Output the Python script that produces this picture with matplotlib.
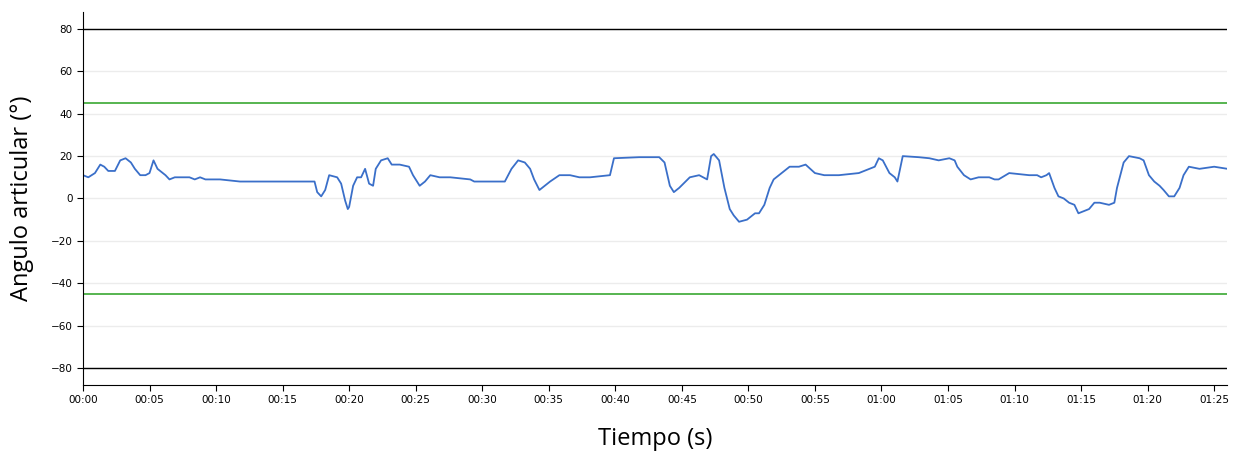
import numpy as np
from matplotlib import pyplot as plt

# datos (tiempo en s, angulo en grados)
tiempo = [0, 0.4, 0.9, 1.3, 1.6, 1.9, 2.4, 2.8, 3.2, 3.6, 3.9, 4.3, 4.7, 5.0, 5.3, 5.6, 6.2, 6.5, 6.9, 7.3,
          8.0, 8.4, 8.8, 9.2, 10.3, 11.8, 13.3, 16.3, 17.4, 17.6, 17.9, 18.2, 18.5, 19.1, 19.4, 19.7, 19.9,
          20.0, 20.3, 20.6, 20.9, 21.2, 21.5, 21.8, 22.0, 22.4, 22.9, 23.2, 23.8, 24.5, 24.8, 25.3, 25.7,
          26.1, 26.8, 27.6, 29.1, 29.4, 30.6, 31.7, 32.2, 32.7, 33.2, 33.6, 33.9, 34.3, 34.7, 35.1, 35.8,
          36.6, 37.3, 38.1, 39.6, 39.9, 41.8, 43.3, 43.7, 44.1, 44.4, 44.8, 45.6, 46.3, 46.9, 47.2, 47.4,
          47.8, 48.2, 48.6, 48.9, 49.3, 49.9, 50.5, 50.8, 51.2, 51.6, 51.9, 52.3, 53.1, 53.8, 54.3, 55.0,
          55.7, 56.8, 58.3, 59.1, 59.5, 59.8, 60.1, 60.6, 61.0, 61.2, 61.6, 62.8, 63.6, 64.3, 65.1, 65.5,
          65.7, 66.2, 66.7, 67.3, 68.1, 68.5, 68.8, 69.6, 71.1, 71.7, 72.0, 72.4, 72.6, 73.0, 73.3, 73.7,
          74.1, 74.5, 74.8, 75.2, 75.6, 76.0, 76.4, 77.1, 77.5, 77.7, 78.2, 78.6, 79.4, 79.7, 80.1, 80.5,
          80.9, 81.2, 81.6, 82.0, 82.4, 82.7, 83.1, 83.9, 85.0, 86.0]
angulo = [11, 10, 12, 16, 15, 13, 13, 18, 19, 17, 14, 11, 11, 12, 18, 14, 11, 9, 10, 10,
          10, 9, 10, 9, 9, 8, 8, 8, 8, 3, 1, 4, 11, 10, 7, -1, -5,
          -4, 6, 10, 10, 14, 7, 6, 14, 18, 19, 16, 16, 15, 11, 6, 8,
          11, 10, 10, 9, 8, 8, 8, 14, 18, 17, 14, 9, 4, 6, 8, 11,
          11, 10, 10, 11, 19, 19.5, 19.5, 17, 6, 3, 5, 10, 11, 9, 20, 21,
          18, 5, -5, -8, -11, -10, -7, -7, -3, 5, 9, 11, 15, 15, 16, 12,
          11, 11, 12, 14, 15, 19, 18, 12, 10, 8, 20, 19.5, 19, 18, 19, 18,
          15, 11, 9, 10, 10, 9, 9, 12, 11, 11, 10, 11, 12, 5, 1, 0,
          -2, -3, -7, -6, -5, -2, -2, -3, -2, 5, 17, 20, 19, 18, 11, 8,
          6, 4, 1, 1, 5, 11, 15, 14, 15, 14]
limites_rango = [45, -45]
limites_max = [80, -80]
ticks_x = np.arange(0, 86, 5)
etiquetas_x = ['%02d:%02d' % (t // 60, t % 60) for t in ticks_x]
ticks_y = np.arange(-80, 81, 20)

fig = plt.figure(figsize=(12.44, 4.67), dpi=100)
ax = fig.add_axes([0.0667, 0.176, 0.92, 0.798])
ax.set_xlim(0, 86)
ax.set_ylim(-88, 88)
ax.set_yticks(ticks_y)
ax.set_yticklabels([str(v).replace('-', '\u2212') for v in ticks_y])
ax.grid(axis='y', color='#ececec', linewidth=1)
ax.set_axisbelow(True)
for v in limites_max:
    ax.axhline(v, color='black', linewidth=1)
for v in limites_rango:
    ax.axhline(v, color='#3aa832', linewidth=1.2)
ax.plot(tiempo, angulo, color='#3a6fc9', linewidth=1.3)
ax.set_xticks(ticks_x)
ax.set_xticklabels(etiquetas_x)
ax.tick_params(labelsize=7.5, length=4)
for s in ['top', 'right']:
    ax.spines[s].set_visible(False)
ax.set_ylabel('Angulo articular (°)', fontsize=17, family='Open Sans', labelpad=12)
ax.set_xlabel('Tiempo (s)', fontsize=17, family='Open Sans', labelpad=16)
plt.savefig('out.png')
plt.close()
